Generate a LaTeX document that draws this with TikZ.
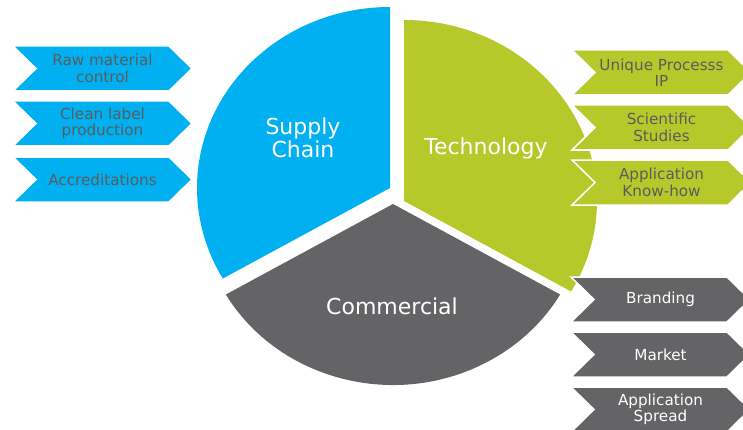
\documentclass[tikz,border=0pt]{standalone}
\usepackage{fontspec}
\setmainfont{DejaVu Sans}
\definecolor{supblue}{RGB}{0,176,240}
\definecolor{techgreen}{RGB}{183,200,43}
\definecolor{commgray}{RGB}{100,100,102}
\definecolor{txtgray}{RGB}{92,92,92}

% chevron: #1 name, #2 left x, #3 top y, #4 fill, #5 text colour, #6 label
\newcommand\drawchev[6]{%
  \filldraw[chevbox, fill=#4] (#2,#3) -- ({#2+156},#3) -- ({#2+179},{#3-22.5})
    -- ({#2+156},{#3-45}) -- (#2,{#3-45}) -- ({#2+23},{#3-22.5}) -- cycle;
  \node[chevtext, text=#5] (#1) at ({#2+89.5},{#3-22.5}) {#6};}

\begin{document}
\begin{tikzpicture}[x=1pt,y=1pt,
  chevbox/.style={draw=white, line width=1.5pt, line join=miter},
  chevtext/.style={align=center, inner sep=0pt,
    font=\fontsize{15.2}{16.5}\selectfont},
  pietext/.style={align=center, inner sep=0pt, text=white,
    font=\fontsize{22}{23}\selectfont}]
\useasboundingbox (0,0) rectangle (743,429);
\clip (0,0) rectangle (743,429);

% exploded pie, three 120 degree sectors
\coordinate (cblue) at (390,241);
\coordinate (cgreen) at (404,228);
\coordinate (cgray) at (393,225);
\fill[supblue] (cblue) -- ++(0,181)
  arc[start angle=90, end angle=210, x radius=193, y radius=181] -- cycle;
\fill[techgreen] (cgreen) -- ++(0,181)
  arc[start angle=90, end angle=-30, x radius=193, y radius=181] -- cycle;
\fill[commgray] (cgray) -- ++({193*cos(210)},{181*sin(210)})
  arc[start angle=210, end angle=330, x radius=193, y radius=181] -- cycle;

\node[pietext] (supply) at (303,291) {Supply\\Chain};
\node[pietext, anchor=base] (tech) at (486,274.5) {Technology};
\node[pietext, anchor=base] (comm) at (392,115) {Commercial};

% supply chain items
\drawchev{raw}{13}{383}{supblue}{txtgray}{Raw material\\control}
\drawchev{clean}{13}{328}{supblue}{txtgray}{Clean label\\production}
\drawchev{accr}{13}{272}{supblue}{txtgray}{Accreditations}

% technology items
\drawchev{uniq}{572}{379}{techgreen}{txtgray}{Unique Processs\\IP}
\drawchev{sci}{572}{324}{techgreen}{txtgray}{Scientific\\Studies}
\drawchev{know}{572}{269}{techgreen}{txtgray}{Application\\Know-how}

% commercial items
\drawchev{brand}{571}{152}{commgray}{white}{Branding}
\drawchev{market}{571}{97}{commgray}{white}{Market}
\drawchev{spread}{571}{42}{commgray}{white}{Application\\Spread}
\end{tikzpicture}
\end{document}
